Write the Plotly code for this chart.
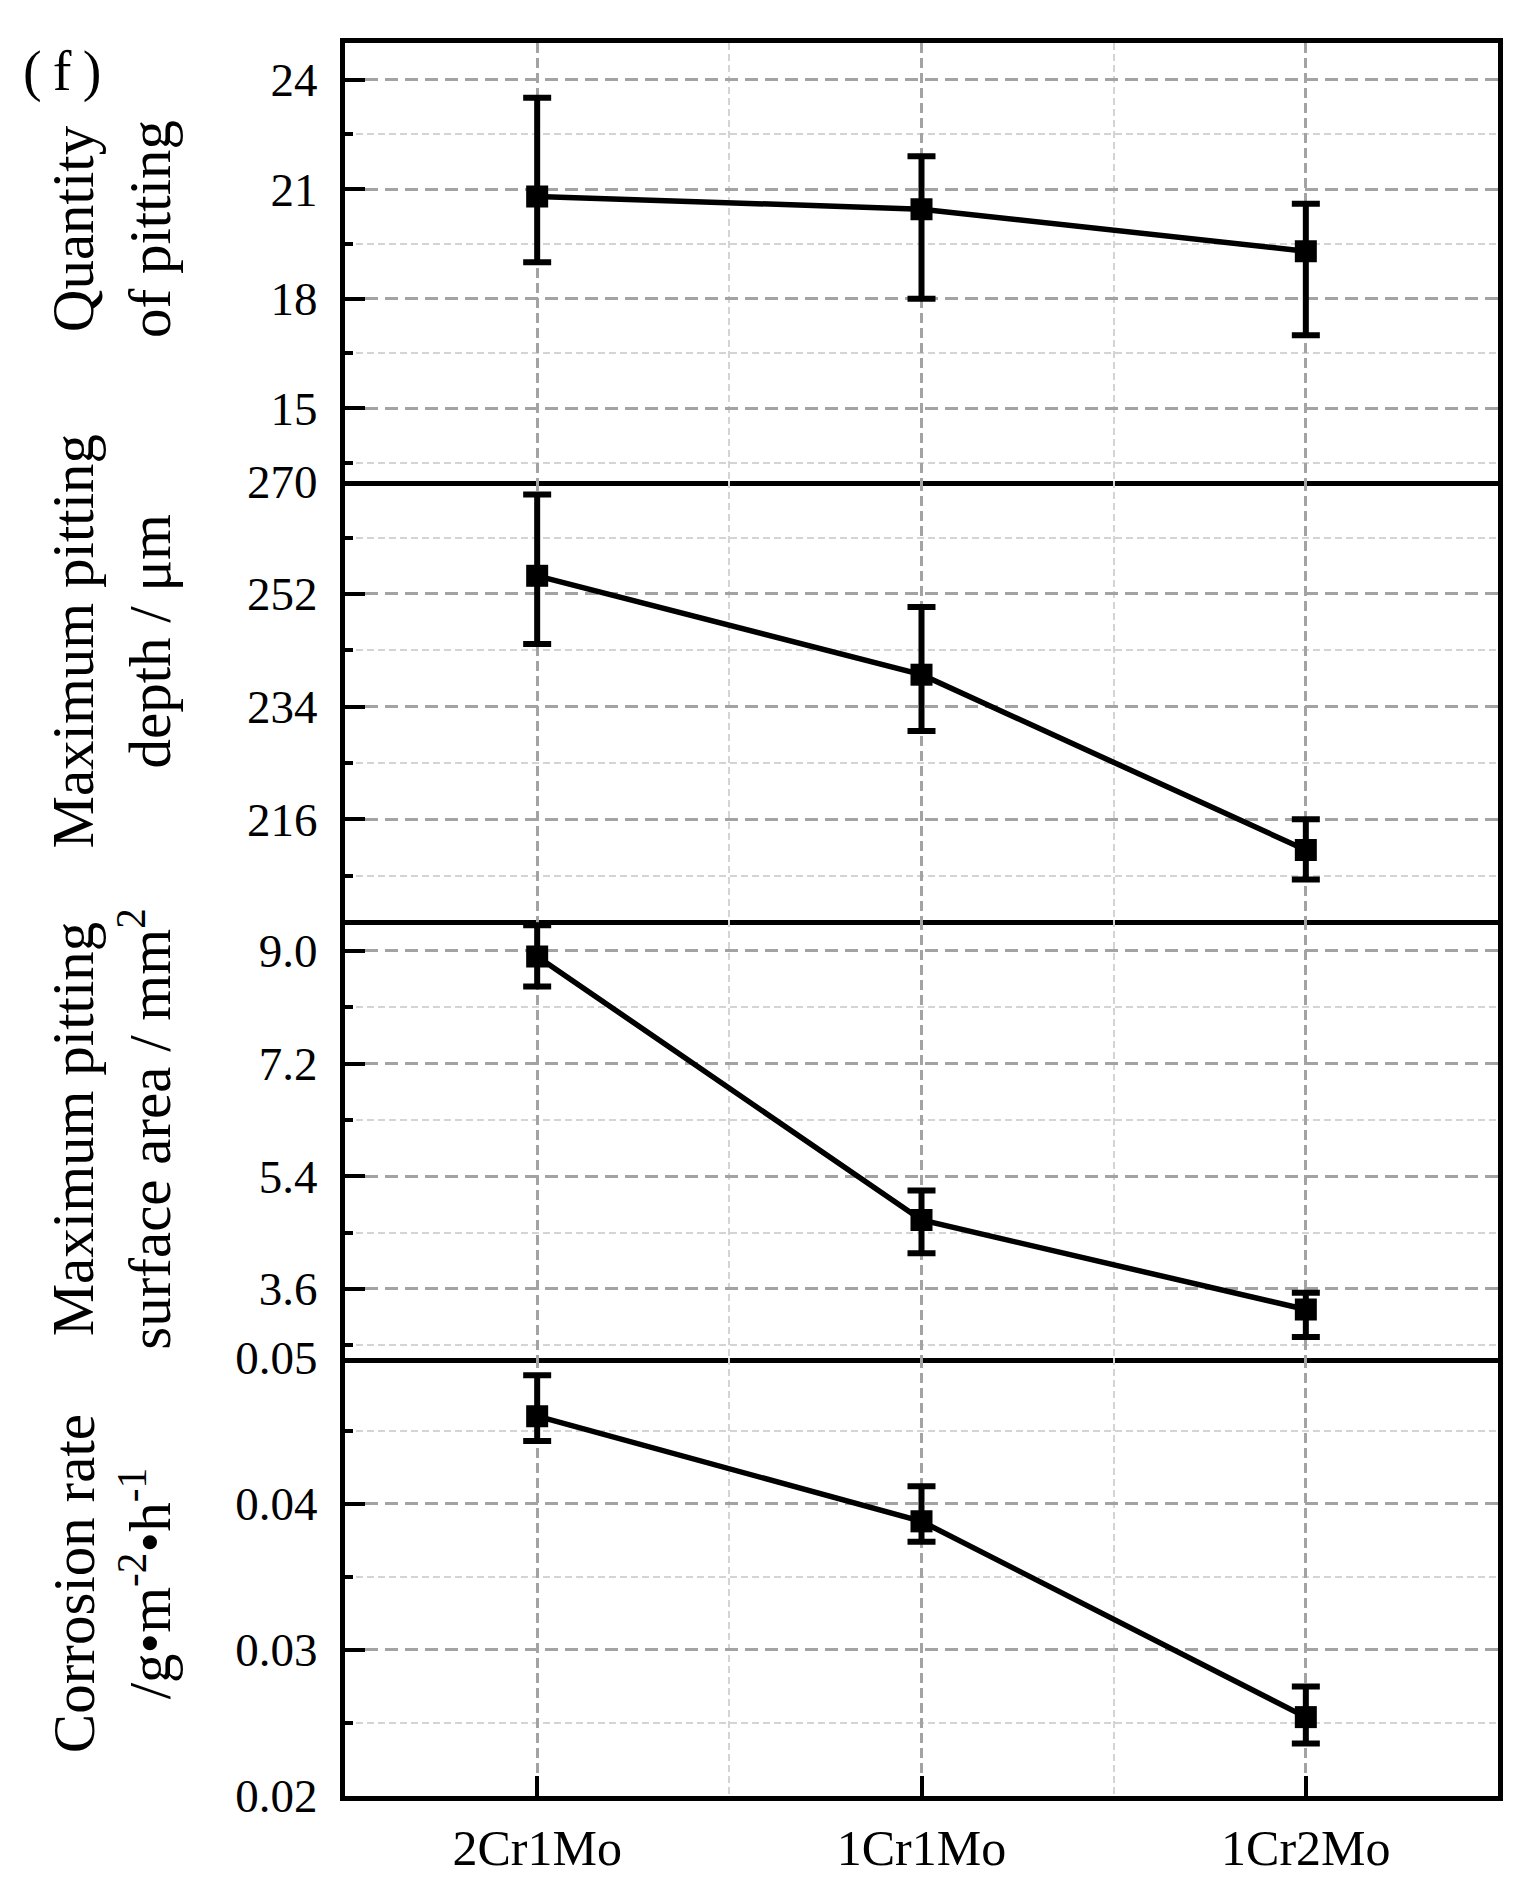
import plotly.graph_objects as go
from plotly.subplots import make_subplots

categories = ["2Cr1Mo", "1Cr1Mo", "1Cr2Mo"]

quantity_mean = [20.8, 20.45, 19.3]
quantity_upper = [23.5, 21.9, 20.6]
quantity_lower = [19.0, 18.0, 17.0]

depth_mean = [254.9, 239.1, 211.1]
depth_upper = [267.9, 249.9, 216.0]
depth_lower = [244.0, 230.1, 206.4]

area_mean = [8.91, 4.70, 3.27]
area_upper = [9.41, 5.17, 3.54]
area_lower = [8.43, 4.17, 2.83]

rate_mean = [0.0460, 0.0388, 0.0254]
rate_upper = [0.0488, 0.0412, 0.0275]
rate_lower = [0.0443, 0.0374, 0.0236]

quantity_ticks = [15, 18, 21, 24]
quantity_minor = [13.5, 16.5, 19.5, 22.5]
depth_ticks = [216, 234, 252, 270]
depth_minor = [207, 225, 243, 261]
area_ticks = [3.6, 5.4, 7.2, 9.0]
area_minor = [2.7, 4.5, 6.3, 8.1]
rate_ticks = [0.02, 0.03, 0.04, 0.05]
rate_minor = [0.025, 0.035, 0.045]

panel_titles = [
    "Quantity<br>of pitting",
    "Maximum pitting<br>depth / μm",
    "Maximum pitting<br>surface area / mm<sup>2</sup>",
    "Corrosion rate<br>/g•m<sup>-2</sup>•h<sup>-1</sup>",
]

FONT = "Liberation Serif"
W, H = 1533, 1888
L, R, T, B = 345, 35, 43, 82

fig = make_subplots(rows=4, cols=1, shared_xaxes=True, vertical_spacing=0,
                    row_heights=[1, 1, 1, 1])

xpos = list(range(len(categories)))

series = [
    (quantity_mean, quantity_upper, quantity_lower),
    (depth_mean, depth_upper, depth_lower),
    (area_mean, area_upper, area_lower),
    (rate_mean, rate_upper, rate_lower),
]

for i, (m, u, lo) in enumerate(series):
    fig.add_trace(go.Scatter(
        x=xpos, y=m, mode="lines+markers",
        line=dict(color="black", width=5.5),
        marker=dict(symbol="square", size=22, color="black"),
        error_y=dict(type="data", symmetric=False,
                     array=[a - b for a, b in zip(u, m)],
                     arrayminus=[b - c for b, c in zip(m, lo)],
                     color="black", thickness=6, width=14),
        showlegend=False,
    ), row=i + 1, col=1)

yinfo = [
    ([13, 25], quantity_ticks, quantity_minor, None),
    ([200, 270], depth_ticks, depth_minor, None),
    ([2.5, 9.5], area_ticks, area_minor, ".1f"),
    ([0.02, 0.05], rate_ticks, rate_minor, ".2f"),
]

for i, (rng, tv, mv, fmt) in enumerate(yinfo):
    kw = dict(
        range=rng, tickmode="array", tickvals=tv,
        showline=True, linecolor="black", linewidth=5, mirror=True,
        ticks="inside", ticklen=20, tickwidth=4, tickcolor="black",
        showgrid=True, gridcolor="#a3a3a3", gridwidth=3, griddash="13px,7px",
        zeroline=False,
        tickfont=dict(family=FONT, size=47, color="black"),
        ticklabelstandoff=13,
        minor=dict(tickmode="array", tickvals=mv, ticks="inside", ticklen=8,
                   tickwidth=4, tickcolor="black", showgrid=True,
                   gridcolor="#d4d4d4", gridwidth=2, griddash="7px,4px"),
    )
    if fmt:
        kw["tickformat"] = fmt
    fig.update_yaxes(row=i + 1, col=1, **kw)

for i in range(4):
    last = (i == 3)
    fig.update_xaxes(
        row=i + 1, col=1,
        range=[-0.5, 2.5], tickmode="array", tickvals=xpos, ticktext=categories,
        showline=True, linecolor="black", linewidth=5, mirror=(i == 0),
        ticks="inside" if last else "", ticklen=20, tickwidth=4, tickcolor="black",
        showticklabels=last,
        tickfont=dict(family=FONT, size=50, color="black"),
        ticklabelstandoff=4,
        showgrid=True, gridcolor="#a3a3a3", gridwidth=3, griddash="10px,5px",
        zeroline=False,
        minor=dict(tickmode="array", tickvals=[0.5, 1.5], ticks="", showgrid=True,
                   gridcolor="#d4d4d4", gridwidth=2, griddash="7px,4px"),
    )

pw = W - L - R
ph = H - T - B
title_centers = [230, 645, 1135, 1593]
for t, yc in zip(panel_titles, title_centers):
    fig.add_annotation(
        text=t, xref="paper", yref="paper",
        x=(112 - L) / pw, y=(H - B - yc) / ph,
        xanchor="center", yanchor="middle", textangle=-90, showarrow=False,
        font=dict(family=FONT, size=59, color="black"), align="center",
    )

fig.add_annotation(
    text="(\u2009f\u2009)", xref="paper", yref="paper",
    x=(62 - L) / pw, y=(H - B - 72) / ph,
    xanchor="center", yanchor="middle", showarrow=False,
    font=dict(family=FONT, size=56, color="black"),
)

fig.update_layout(
    width=W, height=H,
    margin=dict(l=L, r=R, t=T, b=B),
    paper_bgcolor="white", plot_bgcolor="white",
    font=dict(family=FONT, color="black"),
)

fig.write_html("out.html", config={"displayModeBar": False})
with open("out.html", "r", encoding="utf-8") as f:
    html = f.read()
html = html.replace("<body>", '<body style="margin:0;padding:0">', 1)
with open("out.html", "w", encoding="utf-8") as f:
    f.write(html)
